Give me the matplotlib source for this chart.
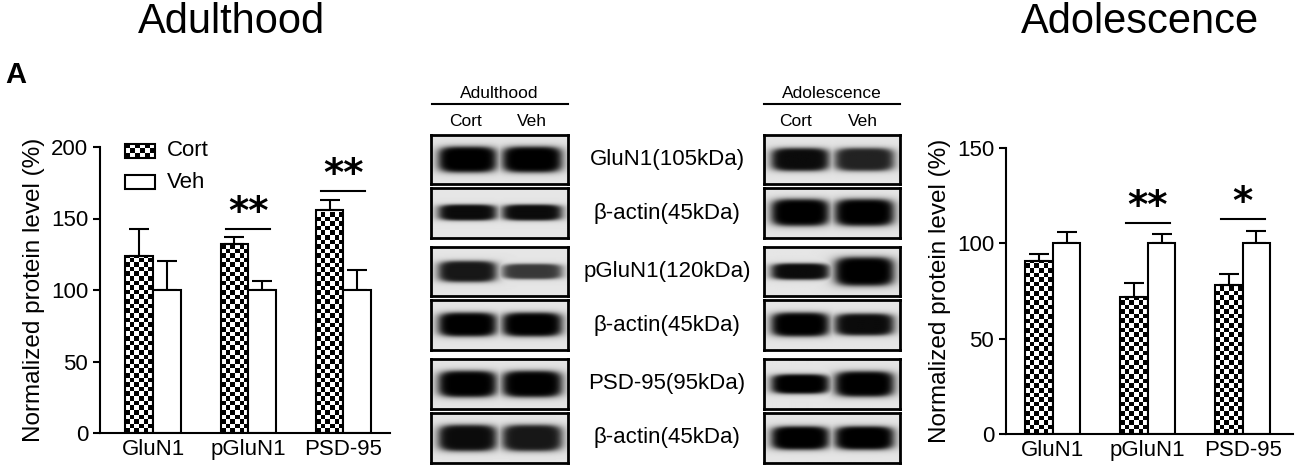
import numpy as np
import matplotlib
matplotlib.use("Agg")
import matplotlib.pyplot as plt
from matplotlib.patches import Rectangle
from matplotlib.transforms import offset_copy

plt.rcParams['font.family'] = ['Liberation Sans', 'DejaVu Sans']

W, H = 1295, 466

# ---- data ----
proteins = ["GluN1", "pGluN1", "PSD-95"]
groups = ["Cort", "Veh"]

adult_cort = [124, 132, 156]
adult_cort_err = [19, 5, 7]
adult_veh = [100, 100, 100]
adult_veh_err = [20, 6, 14]
adult_sig = ["", "**", "**"]
adult_sig_y = [None, 143, 169]

adol_cort = [90.5, 72, 78]
adol_cort_err = [4, 7, 6]
adol_veh = [100, 100, 100]
adol_veh_err = [6, 5, 6.5]
adol_sig = ["", "**", "*"]
adol_sig_y = [None, 110.6, 112.7]

blot_labels = ["GluN1(105kDa)", "β-actin(45kDa)", "pGluN1(120kDa)",
               "β-actin(45kDa)", "PSD-95(95kDa)", "β-actin(45kDa)"]
# band half-thickness (fraction of box height) for Cort, Veh and darkness
adult_band_h = [(0.27, 0.27), (0.16, 0.16), (0.22, 0.16), (0.24, 0.24), (0.27, 0.27), (0.27, 0.27)]
adult_band_d = [(1.0, 1.0), (0.95, 0.95), (0.9, 0.75), (1.0, 1.0), (1.0, 1.0), (0.95, 0.9)]
adol_band_h = [(0.24, 0.24), (0.27, 0.27), (0.17, 0.3), (0.24, 0.22), (0.2, 0.26), (0.24, 0.24)]
adol_band_d = [(0.95, 0.85), (1.0, 1.0), (0.95, 1.0), (1.0, 0.95), (1.0, 1.0), (1.0, 1.0)]
box_rows = [(135, 184), (188, 238), (247, 296), (300, 350), (359, 409), (413, 463)]


def px_axes(x0, y0, x1, y1, **kw):
    return fig.add_axes([x0 / W, 1 - y1 / H, (x1 - x0) / W, (y1 - y0) / H], **kw)


def checker(ax, x, w, h, ymax, axh_px, axw_px, xspan):
    # checkerboard fill clipped to bar
    sq = 4.6
    nx = max(1, int(round(w / xspan * axw_px / sq)))
    ny = max(1, int(round(h / ymax * axh_px / sq)))
    board = (np.add.outer(np.arange(ny), np.arange(nx)) % 2).astype(float)
    rect = Rectangle((x, 0), w, h, transform=ax.transData, fill=False, lw=0)
    ax.add_patch(rect)
    im = ax.imshow(board, cmap="gray", extent=(x, x + w, 0, ny * sq * ymax / axh_px),
                   origin="lower", interpolation="nearest", aspect="auto", zorder=1)
    im.set_clip_path(rect)


def bar_panel(ax, cort, cort_err, veh, veh_err, sig, sig_y, ymax, ticks, xlim, axw_px, axh_px, legend):
    w = 0.29
    xs = np.arange(len(proteins))
    xspan = xlim[1] - xlim[0]
    for i in xs:
        checker(ax, i - w, w, cort[i], ymax, axh_px, axw_px, xspan)
        ax.bar(i - w, cort[i], w, align="edge", facecolor="none", edgecolor="black", lw=1.5, zorder=2)
        ax.bar(i, veh[i], w, align="edge", facecolor="white", edgecolor="black", lw=1.5, zorder=2)
    ax.errorbar(xs - w / 2, cort, yerr=[np.zeros(3), cort_err], fmt="none", ecolor="black",
                elinewidth=1.5, capsize=7, capthick=1.5, zorder=1.5)
    ax.errorbar(xs + w / 2, veh, yerr=[np.zeros(3), veh_err], fmt="none", ecolor="black",
                elinewidth=1.5, capsize=7, capthick=1.5, zorder=1.5)
    star_tr = offset_copy(ax.transData, fig=fig, x=0, y=5, units="dots")
    for i in xs:
        if sig[i]:
            ax.plot([i - 0.23, i + 0.23], [sig_y[i], sig_y[i]], color="black", lw=1.5)
            ax.text(i, sig_y[i], sig[i], ha="center", va="baseline", fontsize=28,
                    fontweight="bold", family="DejaVu Sans", transform=star_tr)
    ax.set_xlim(*xlim)
    ax.set_ylim(0, ymax)
    ax.set_yticks(ticks)
    ax.set_xticks(xs)
    ax.set_xticklabels(proteins)
    ax.tick_params(axis="both", labelsize=16, width=1.5, length=5, colors="black")
    ax.tick_params(axis="x", length=0, pad=4)
    ax.spines[["top", "right"]].set_visible(False)
    ax.spines[["left", "bottom"]].set_linewidth(1.5)
    ax.set_ylabel("Normalized protein level (%)", fontsize=17.5, labelpad=4)
    if legend:
        lx0 = xlim[0] + 25 / axw_px * xspan
        lw_ = 30 / axw_px * xspan
        for k, ypx in enumerate([151, 182]):
            yc = (433 - ypx) / axh_px * ymax
            hh = 14 / axh_px * ymax
            r = Rectangle((lx0, yc - hh / 2), lw_, hh, fill=(k == 1), facecolor="white",
                          edgecolor="black", lw=1.5, clip_on=False, zorder=3)
            ax.add_patch(r)
            if k == 0:
                nx, ny = 6, 3
                board = (np.add.outer(np.arange(ny), np.arange(nx)) % 2).astype(float)
                im = ax.imshow(board, cmap="gray", extent=(lx0, lx0 + lw_, yc - hh / 2, yc + hh / 2),
                               origin="lower", interpolation="nearest", aspect="auto", zorder=2)
                im.set_clip_on(False)
            ax.text(lx0 + lw_ + 12 / axw_px * xspan, yc, groups[k], fontsize=16, va="center")


def blot(ax, heights, darks):
    nyp, nxp = 50, 137
    yy, xx = np.mgrid[0:1:nyp * 1j, 0:1:nxp * 1j]
    img = np.zeros_like(yy)
    for (c0, c1), h, d in zip([(0.05, 0.48), (0.52, 0.96)], heights, darks):
        cx, hw = (c0 + c1) / 2, (c1 - c0) / 2
        r = np.abs((xx - cx) / hw) ** 4 + np.abs((yy - 0.5) / h) ** 4
        img = np.maximum(img, d / (1 + r ** 2.5))
    ax.imshow(0.9 - 0.9 * img, cmap="gray", vmin=0, vmax=1, aspect="auto",
              interpolation="bilinear", extent=(0, 1, 0, 1))
    ax.set_xticks([])
    ax.set_yticks([])
    for s in ax.spines.values():
        s.set_linewidth(2)


fig = plt.figure(figsize=(W / 100, H / 100), dpi=100)

ax1 = px_axes(100, 147, 390, 433)
bar_panel(ax1, adult_cort, adult_cort_err, adult_veh, adult_veh_err, adult_sig, adult_sig_y,
          200, [0, 50, 100, 150, 200], (-0.558, 2.49), 290, 286, True)

ax2 = px_axes(1006, 148, 1293, 434)
bar_panel(ax2, adol_cort, adol_cort_err, adol_veh, adol_veh_err, adol_sig, adol_sig_y,
          150, [0, 50, 100, 150], (-0.495, 2.53), 287, 286, False)

for k, (y0, y1) in enumerate(box_rows):
    blot(px_axes(431, y0, 568, y1), adult_band_h[k], adult_band_d[k])
    blot(px_axes(764, y0, 900, y1), adol_band_h[k], adol_band_d[k])
    fig.text(667 / W, 1 - ((y0 + y1) / 2) / H, blot_labels[k], ha="center", va="center", fontsize=16)

# blot headers
for cx, name, cxs in [(499.5, "Adulthood", (465, 532)), (832, "Adolescence", (796, 863))]:
    fig.text(cx / W, 1 - 93 / H, name, ha="center", va="center", fontsize=12.5)
    fig.add_artist(plt.Line2D([(cx - 68) / W, (cx + 68) / W], [1 - 104 / H] * 2, color="black", lw=1.5))
    for x, g in zip(cxs, groups):
        fig.text(x / W, 1 - 122 / H, g, ha="center", va="center", fontsize=12.5)

fig.text(231 / W, 1 - 33 / H, "Adulthood", ha="center", va="baseline", fontsize=30)
fig.text(1140 / W, 1 - 33 / H, "Adolescence", ha="center", va="baseline", fontsize=30)
fig.text(5 / W, 1 - 83 / H, "A", ha="left", va="baseline", fontsize=21, fontweight="bold")

fig.savefig("out.png", dpi=100)
